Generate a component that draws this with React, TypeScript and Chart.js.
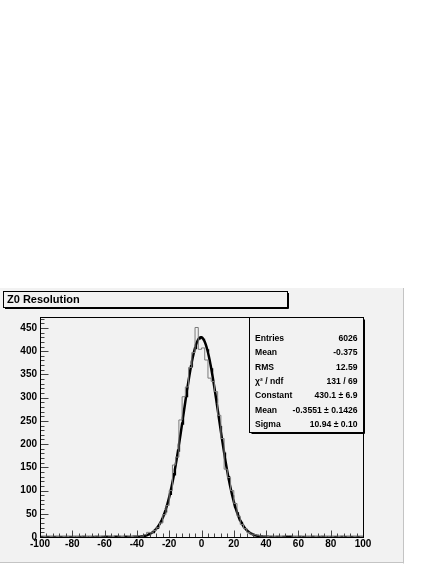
import React, { useEffect, useRef } from "react";
import { Chart, registerables } from "chart.js";

Chart.register(...registerables);

// ---------------- data ----------------
const histTitle = "Z0 Resolution";
const binLow = -100;
const binWidth = 2;
const binCounts = [
  0, 1, 0, 1, 0, 1, 0, 1, 1, 0,
  1, 1, 0, 2, 1, 1, 0, 2, 1, 2,
  3, 2, 1, 3, 2, 1, 3, 2, 1, 2,
  3, 2, 5, 10, 9, 14, 20, 30, 48, 68,
  100, 155, 172, 252, 302, 323, 365, 397, 451, 404,
  407, 381, 342, 335, 313, 262, 212, 146, 128, 100,
  72, 45, 27, 18, 10, 6, 5, 4, 2, 2,
  1, 2, 1, 2, 1, 2, 3, 3, 1, 1,
  2, 0, 1, 1, 2, 1, 0, 2, 1, 1,
  1, 0, 1, 2, 0, 1, 0, 1, 0, 1,
];
const xTickLabels = [-100, -80, -60, -40, -20, 0, 20, 40, 60, 80, 100];
const yTickLabels = [0, 50, 100, 150, 200, 250, 300, 350, 400, 450];
const yAxisMax = 473.6;
// Gaussian fit parameters (from the stats box)
const fitConstant = 430.1;
const fitMean = -0.3551;
const fitSigma = 10.94;
const statsNames = ["Entries", "Mean", "RMS", "\u03C7\u00B2 / ndf", "Constant", "Mean", "Sigma"];
const statsValues = ["6026", "-0.375", "12.59", "131 / 69", "430.1 \u00B1 6.9", "-0.3551 \u00B1 0.1426", "10.94 \u00B1 0.10"];

// ---------------- style ----------------
const FONT = "'Liberation Sans', Arial, Helvetica, sans-serif";
const PANEL = "#f2f2f2";

const histPoints = binCounts
  .map((c, i) => ({ x: binLow + i * binWidth, y: c }))
  .concat([{ x: binLow + binCounts.length * binWidth, y: binCounts[binCounts.length - 1] }]);

const fitPoints: { x: number; y: number }[] = [];
for (let k = 0; k <= 400; k++) {
  const x = binLow + k * 0.5;
  fitPoints.push({ x, y: fitConstant * Math.exp(-0.5 * ((x - fitMean) / fitSigma) ** 2) });
}

const decor = {
  id: "rootDecor",
  beforeDraw(chart: any) {
    const ctx = chart.ctx as CanvasRenderingContext2D;
    ctx.save();
    ctx.fillStyle = "#ffffff";
    ctx.fillRect(0, 0, chart.width, chart.height);
    // canvas panel
    ctx.fillStyle = PANEL;
    ctx.fillRect(0, 288, 403, 275);
    ctx.strokeStyle = "#c4c4c4";
    ctx.lineWidth = 1;
    ctx.beginPath();
    ctx.moveTo(403.5, 288);
    ctx.lineTo(403.5, 563.5);
    ctx.moveTo(0, 562.5);
    ctx.lineTo(404, 562.5);
    ctx.stroke();
    // title box
    ctx.fillStyle = PANEL;
    ctx.fillRect(3.5, 291.5, 284, 16);
    ctx.strokeStyle = "#000";
    ctx.strokeRect(3.5, 291.5, 284, 16);
    ctx.beginPath();
    ctx.moveTo(288.5, 293);
    ctx.lineTo(288.5, 308.5);
    ctx.lineTo(5, 308.5);
    ctx.stroke();
    ctx.fillStyle = "#000";
    ctx.font = `bold 11px ${FONT}`;
    ctx.textBaseline = "middle";
    ctx.textAlign = "left";
    ctx.fillText(histTitle, 7, 300);
    ctx.restore();
  },
  afterDatasetsDraw(chart: any) {
    const ctx = chart.ctx as CanvasRenderingContext2D;
    const a = chart.chartArea;
    const xs = chart.scales.x;
    const ys = chart.scales.y;
    const L = Math.round(a.left) + 0.5;
    const R = Math.round(a.right) + 0.5;
    const T = Math.round(a.top) + 0.5;
    const B = Math.round(a.bottom) + 0.5;
    ctx.save();
    // ticks
    ctx.strokeStyle = "#444";
    ctx.lineWidth = 1;
    ctx.beginPath();
    for (let v = 0; v <= yAxisMax; v += 10) {
      const y = Math.round(ys.getPixelForValue(v)) + 0.5;
      const len = v % 50 === 0 ? 8 : 4;
      ctx.moveTo(L, y);
      ctx.lineTo(L + len, y);
    }
    for (let v = -100; v <= 100; v += 4) {
      const x = Math.round(xs.getPixelForValue(v)) + 0.5;
      const len = v % 20 === 0 ? 7 : 4;
      ctx.moveTo(x, B);
      ctx.lineTo(x, B - len);
    }
    ctx.stroke();
    // frame
    ctx.strokeStyle = "#000";
    ctx.strokeRect(L, T, R - L, B - T);
    // stats box
    const bx = 249.5, by = 317.5, bw = 114, bh = 115;
    ctx.fillStyle = PANEL;
    ctx.fillRect(bx, by, bw, bh);
    ctx.strokeStyle = "#000";
    ctx.strokeRect(bx, by, bw, bh);
    ctx.beginPath();
    ctx.moveTo(bx + bw + 1, by + 2);
    ctx.lineTo(bx + bw + 1, by + bh + 1);
    ctx.lineTo(bx + 2, by + bh + 1);
    ctx.stroke();
    ctx.fillStyle = "#000";
    ctx.font = `bold 8.6px ${FONT}`;
    ctx.textBaseline = "middle";
    statsNames.forEach((name, i) => {
      const y = 338.5 + i * 14.4;
      ctx.textAlign = "left";
      ctx.fillText(name, 255, y);
      ctx.textAlign = "right";
      ctx.fillText(statsValues[i], 357.5, y);
    });
    ctx.restore();
  },
};

export default function App() {
  const ref = useRef<HTMLCanvasElement | null>(null);
  useEffect(() => {
    if (!ref.current) return;
    const chart = new Chart(ref.current, {
      type: "line",
      data: {
        datasets: [
          {
            label: "hist",
            data: histPoints,
            stepped: "before",
            borderColor: "#7a7a7a",
            borderWidth: 1,
            pointRadius: 0,
            fill: false,
          },
          {
            label: "fit",
            data: fitPoints,
            borderColor: "#000",
            borderWidth: 2.5,
            pointRadius: 0,
            tension: 0,
            fill: false,
          },
        ],
      },
      options: {
        animation: false,
        responsive: false,
        maintainAspectRatio: false,
        devicePixelRatio: 1,
        parsing: false,
        layout: { padding: { left: 0, top: 317, right: 73, bottom: 0 } },
        plugins: { legend: { display: false }, tooltip: { enabled: false }, title: { display: false } },
        scales: {
          x: {
            type: "linear",
            min: -100,
            max: 100,
            grid: { display: false, drawTicks: false },
            border: { display: false },
            ticks: {
              color: "#000",
              font: { family: FONT, size: 10, weight: "bold" },
              padding: 1,
              maxRotation: 0,
              autoSkip: false,
              callback: (v: any) => String(v),
            },
            afterBuildTicks: (s: any) => {
              s.ticks = xTickLabels.map((v) => ({ value: v }));
            },
            afterFit: (s: any) => {
              s.height = 27;
            },
          },
          y: {
            type: "linear",
            min: 0,
            max: yAxisMax,
            grid: { display: false, drawTicks: false },
            border: { display: false },
            ticks: {
              color: "#000",
              font: { family: FONT, size: 10, weight: "bold" },
              padding: 3,
              autoSkip: false,
              callback: (v: any) => String(v),
            },
            afterBuildTicks: (s: any) => {
              s.ticks = yTickLabels.map((v) => ({ value: v }));
            },
            afterFit: (s: any) => {
              s.width = 40;
            },
          },
        },
      },
      plugins: [decor],
    } as any);
    return () => chart.destroy();
  }, []);
  return (
    <div style={{ position: "fixed", left: 0, top: 0, width: 436, height: 564 }}>
      <canvas ref={ref} width={436} height={564} style={{ display: "block" }} />
    </div>
  );
}
